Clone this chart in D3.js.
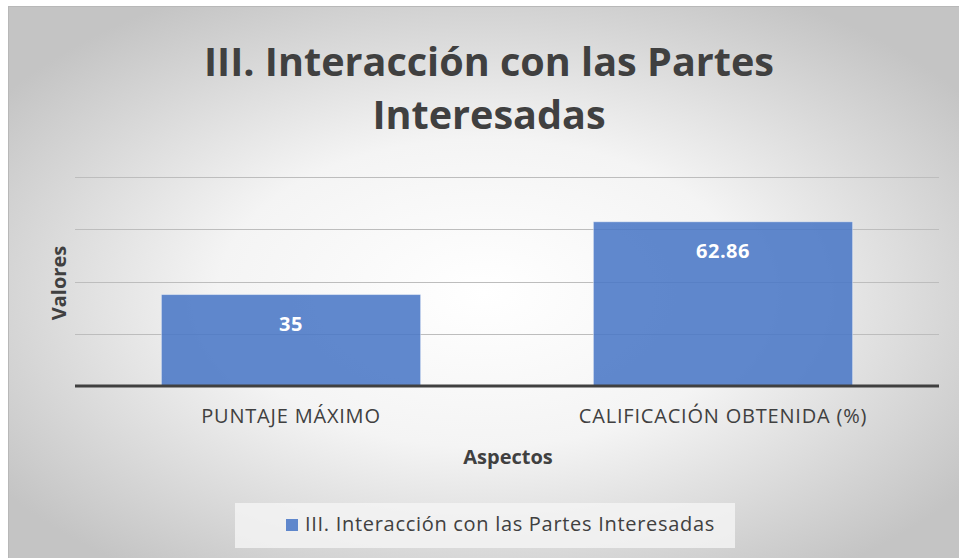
<!DOCTYPE html>
<html>
<head>
<meta charset="utf-8">
<script src="https://cdn.jsdelivr.net/npm/d3@7"></script>
<style>
  body { margin: 0; background: #fff; }
  svg { display: block; }
</style>
</head>
<body>
<div id="chart"></div>
<script>
// data
const categories = ["PUNTAJE MÁXIMO", "CALIFICACIÓN OBTENIDA (%)"]
const values = [35, 62.86]
const yTicks = [0, 20, 40, 60, 80]
const seriesName = "III. Interacción con las Partes Interesadas"
const titleLines = ["III. Interacción con las Partes", "Interesadas"]

const w = 959
const h = 558
const baseY = 386
const font = "'Open Sans', sans-serif"

const svg = d3.select("#chart").append("svg")
    .attr("width", w)
    .attr("height", h)

// background gradient
const defs = svg.append("defs")
const grad = defs.append("radialGradient")
    .attr("id", "bg")
    .attr("cx", "50%").attr("cy", "52%").attr("r", "62%")
grad.append("stop").attr("offset", "0%").attr("stop-color", "#ffffff")
grad.append("stop").attr("offset", "45%").attr("stop-color", "#f4f4f4")
grad.append("stop").attr("offset", "100%").attr("stop-color", "#c4c4c4")

svg.append("rect")
    .attr("x", 8).attr("y", 6)
    .attr("width", w - 8).attr("height", h - 6)
    .attr("fill", "url(#bg)")
svg.append("line")
    .attr("x1", 8.5).attr("x2", 8.5).attr("y1", 6).attr("y2", h)
    .attr("stroke", "#b8b8b8")
svg.append("line")
    .attr("x1", 8).attr("x2", w).attr("y1", 6.5).attr("y2", 6.5)
    .attr("stroke", "#b8b8b8")

const x = d3.scaleBand()
    .domain(categories)
    .range([75, 939])
    .paddingInner(0.4)
    .paddingOuter(0.2)

const y = d3.scaleLinear()
    .domain([0, 80])
    .range([baseY, 177])

// gridlines
svg.append("g")
    .selectAll("line")
    .data(yTicks.filter(d => d > 0))
    .enter().append("line")
    .attr("x1", 75).attr("x2", 939)
    .attr("y1", d => Math.round(y(d)) + 0.5)
    .attr("y2", d => Math.round(y(d)) + 0.5)
    .attr("stroke", "#bdbdbd")
    .attr("stroke-width", 1)

// bars
svg.append("g")
    .selectAll("rect")
    .data(values)
    .enter().append("rect")
    .attr("x", (d, i) => x(categories[i]))
    .attr("y", d => y(d))
    .attr("width", x.bandwidth())
    .attr("height", d => baseY - y(d))
    .attr("fill", "#4a78c6")
    .attr("fill-opacity", 0.88)
    .attr("stroke", "#ffffff")
    .attr("stroke-opacity", 0.4)

// data labels
svg.append("g")
    .selectAll("text")
    .data(values)
    .enter().append("text")
    .attr("x", (d, i) => x(categories[i]) + x.bandwidth() / 2)
    .attr("y", d => y(d) + 36)
    .attr("text-anchor", "middle")
    .attr("font-family", font)
    .attr("font-weight", "bold")
    .attr("font-size", "20px")
    .attr("letter-spacing", "0.5px")
    .attr("fill", "#ffffff")
    .text(d => d)

// x axis
const xAxis = svg.append("g")
    .attr("transform", "translate(0," + baseY + ")")
    .call(d3.axisBottom(x).tickSize(0).tickPadding(23))
xAxis.select(".domain")
    .attr("stroke", "#404040")
    .attr("stroke-width", 3)
    .attr("d", "M75,0H939")
xAxis.selectAll("text")
    .attr("font-family", font)
    .attr("font-size", "20px")
    .attr("letter-spacing", "0.8px")
    .attr("fill", "#404040")

// axis titles
svg.append("text")
    .attr("x", 508).attr("y", 464)
    .attr("text-anchor", "middle")
    .attr("font-family", font)
    .attr("font-weight", "bold")
    .attr("font-size", "20px")
    .attr("fill", "#404040")
    .text("Aspectos")

svg.append("text")
    .attr("transform", "translate(66,283) rotate(-90)")
    .attr("text-anchor", "middle")
    .attr("font-family", font)
    .attr("font-weight", "bold")
    .attr("font-size", "20px")
    .attr("fill", "#404040")
    .text("Valores")

// title
svg.append("g")
    .selectAll("text")
    .data(titleLines)
    .enter().append("text")
    .attr("x", 489)
    .attr("y", (d, i) => 76 + i * 53)
    .attr("text-anchor", "middle")
    .attr("font-family", font)
    .attr("font-weight", "bold")
    .attr("font-size", "39.6px")
    .attr("fill", "#404040")
    .text(d => d)

// legend
const legend = svg.append("g")
legend.append("rect")
    .attr("x", 235).attr("y", 503)
    .attr("width", 500).attr("height", 45)
    .attr("fill", "#f5f5f5")
    .attr("fill-opacity", 0.8)
legend.append("rect")
    .attr("x", 286).attr("y", 519)
    .attr("width", 12).attr("height", 12)
    .attr("fill", "#4a78c6")
    .attr("fill-opacity", 0.88)
legend.append("text")
    .attr("x", 305).attr("y", 531)
    .attr("font-family", font)
    .attr("font-size", "20px")
    .attr("letter-spacing", "0.7px")
    .attr("fill", "#404040")
    .text(seriesName)
</script>
</body>
</html>
